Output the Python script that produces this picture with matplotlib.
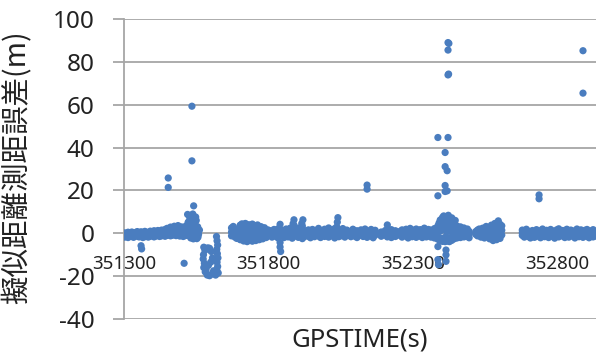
import matplotlib
matplotlib.use("Agg")
import matplotlib.pyplot as plt
import numpy as np

# ---------------- data ----------------
x_ticks = [351300, 351800, 352300, 352800]
y_ticks = [-40, -20, 0, 20, 40, 60, 80, 100]

# segment A: 351300-351515 near-zero band
a_time = [351302, 351308, 351314, 351320, 351327, 351333, 351340, 351346, 351352, 351359,
          351365, 351372, 351378, 351384, 351391, 351397, 351404, 351410, 351417, 351423,
          351430, 351436, 351442, 351449, 351455, 351461, 351468, 351474, 351480, 351487,
          351493, 351499, 351505, 351511]
a_err_hi = [0.2, -0.3, 0.5, 0.1, 0.6, -0.2, 0.4, 0.8, 0.3, 0.7, 0.2, 0.9, 0.5, 0.3, 1.0, 0.6,
            1.2, 0.8, 1.3, 0.9, 1.5, 1.1, 1.8, 2.3, 1.6, 2.9, 2.1, 3.3, 2.6, 3.6, 2.4, 3.0, 2.2, 2.8]
a_err_mid = [-0.8, -1.0, -0.6, -0.9, -0.4, -1.1, -0.7, -0.3, -0.9, -0.5, -0.8, -0.2, -0.6, -1.0,
             -0.3, -0.7, 0.1, -0.4, 0.3, -0.2, 0.4, 0.0, 0.6, 0.2, 0.9, 0.5, 1.1, 0.7, 1.3, 0.9,
             0.4, 1.2, 0.6, 1.0]
a_err_lo = [-1.8, -1.2, -2.0, -1.5, -1.1, -1.9, -1.4, -1.0, -1.7, -1.3, -2.0, -1.6, -1.2, -1.8,
            -1.4, -1.1, -1.7, -1.3, -0.9, -1.5, -1.2, -0.8, -1.4, -1.0, -0.6, -1.2, -0.9, -0.5,
            -1.1, -0.7, -1.3, -0.9, -1.5, -1.1]

# cluster at end of segment A
c1_time = [351515, 351518, 351522, 351525, 351528, 351531, 351534, 351537, 351540, 351543,
           351546, 351549, 351552, 351555, 351558, 351561, 351520, 351526, 351532, 351538,
           351544, 351550, 351556, 351530, 351540, 351548, 351535, 351545, 351527, 351551]
c1_err = [3.5, -1.0, 5.2, 0.5, 7.0, -2.2, 8.4, 2.0, 6.1, -1.5, 4.2, 0.8, -2.5, 3.0, -0.5, 1.5,
          8.8, 8.2, 4.5, 9.0, 2.6, 6.0, -1.8, -0.8, -2.6, 7.6, 1.0, 5.5, 3.2, -2.0]

# segment B: negative cluster
b_time = [351620, 351622, 351624, 351621, 351623, 351625, 351622, 351624, 351621, 351626,
          351576, 351580, 351575, 351574, 351578, 351576, 351581, 351588, 351596, 351604,
          351610, 351602, 351596, 351590, 351606, 351600, 351592, 351584, 351612, 351617]
b_err = [-1.5, -3.5, -5.5, -7.5, -9.5, -11.5, -13.5, -15.5, -17.0, -18.5,
         -6.5, -8.0, -10.0, -12.0, -14.0, -16.0, -18.0, -19.5, -19.8, -19.0,
         -17.5, -8.5, -7.0, -6.8, -11.5, -13.5, -15.0, -17.0, -18.8, -19.5]

# segment C: blob around 351800
cb_time = [351672, 351678, 351684, 351690, 351696, 351702, 351708, 351714, 351720, 351726, 351732,
           351738, 351744, 351750, 351756, 351762, 351768, 351774, 351780, 351786, 351792, 351798]
cb_err_hi = [2.5, 3.2, 1.8, 0.5, 2.2, 3.8, 4.4, 3.0, 4.6, 3.5, 4.0, 2.8, 4.3, 3.6, 2.4, 3.9,
             2.0, 3.1, 1.5, 2.6, 0.8, 1.6]
cb_err_mid = [0.6, -0.3, 0.9, -0.6, 0.4, 0.8, -0.4, 1.2, 0.2, -0.7, 1.0, -0.2, 0.5, 1.4, -0.5,
              0.7, -0.1, 0.9, 0.3, -0.4, 1.1, 0.0]
cb_err_lo = [-1.2, -0.5, -1.8, -2.4, -0.9, -3.0, -2.2, -3.6, -2.8, -3.9, -3.2, -2.5, -3.7, -2.9,
             -3.4, -2.0, -3.0, -1.6, -2.6, -1.4, -2.0, -0.8]

# segment C: band 351805-352045
cn_time = [351805, 351812, 351819, 351826, 351833, 351840, 351847, 351854, 351861, 351868,
           351875, 351882, 351889, 351896, 351903, 351910, 351917, 351924, 351931, 351938,
           351945, 351952, 351959, 351966, 351973, 351980, 351987, 351994, 352001, 352008,
           352015, 352022, 352029, 352036, 352043]
cn_err_hi = [1.2, 0.5, 1.8, 0.9, 2.1, 4.2, 1.5, 0.6, 2.0, 1.1, 2.4, 1.7, 3.6, 2.2, 1.0, 2.7,
             3.4, 1.3, 0.4, 1.6, 0.9, 1.8, 0.7, 1.4, 2.3, 1.0, 0.3, 1.9, 1.2, 2.5, 0.8, 1.6,
             2.2, 3.0, 1.1]
cn_err_mid = [0.1, -0.6, 0.5, -0.3, 0.2, -0.8, 0.4, -0.5, 0.7, -0.2, 0.3, -0.4, 0.9, 0.0, -0.6,
              0.6, -0.1, 0.4, -0.7, 0.2, -0.3, 0.5, -0.5, 0.3, -0.2, 0.6, -0.4, 0.1, -0.6, 0.7,
              -0.1, 0.2, -0.5, 0.8, 0.0]
cn_err_lo = [-1.0, -1.8, -0.6, -1.5, -2.2, -4.3, -1.2, -2.0, -0.9, -1.7, -1.1, -2.3, -1.4, -0.8,
             -1.9, -1.2, -2.5, -1.6, -0.7, -1.4, -2.1, -1.0, -1.6, -0.5, -1.3, -2.0, -0.9, -1.5,
             -1.1, -1.8, -0.6, -1.3, -2.2, -1.0, -1.6]

# segment D: band 352050-352355
d_time = [352050, 352057, 352064, 352071, 352085, 352092, 352099, 352106, 352120, 352127,
          352134, 352141, 352148, 352155, 352162, 352169, 352190, 352204, 352211, 352218,
          352225, 352232, 352239, 352255, 352262, 352269, 352276, 352283, 352290, 352297,
          352304, 352311, 352318, 352325, 352332, 352339, 352346, 352353]
d_err_hi = [1.0, 2.2, 0.6, 1.5, 0.8, 1.9, 0.4, 1.2, 1.6, 0.7, 2.0, 1.1, 0.5, 1.8, 0.9, 1.4,
            0.6, 1.3, 3.9, 0.8, 1.7, 0.4, 1.2, 0.9, 1.6, 0.5, 1.9, 1.0, 2.3, 0.7, 1.5, 2.0,
            0.9, 1.7, 1.2, 2.4, 1.0, 1.8]
d_err_mid = [-0.2, 0.5, -0.6, 0.2, -0.4, 0.6, -0.5, 0.1, 0.4, -0.3, 0.7, -0.1, -0.5, 0.3, -0.2,
             0.5, -0.4, 0.2, 0.8, -0.3, 0.4, -0.6, 0.1, -0.2, 0.6, -0.4, 0.3, -0.1, 0.7, -0.5,
             0.2, 0.6, -0.3, 0.4, -0.1, 0.8, -0.2, 0.5]
d_err_lo = [-1.2, -0.5, -1.8, -1.0, -1.6, -0.7, -1.4, -2.0, -0.8, -1.5, -1.1, -1.9, -0.6, -1.3,
            -2.1, -0.9, -1.4, -0.8, -1.7, -1.2, -2.0, -0.6, -1.5, -1.0, -1.8, -0.7, -1.3, -2.2,
            -0.9, -1.6, -1.1, -1.9, -0.5, -1.4, -2.0, -1.0, -1.7, -1.2]

# segment E: dense cluster 352360-352495
e_time = [352362, 352368, 352374, 352380, 352386, 352390, 352394, 352398, 352402, 352406,
          352410, 352414, 352418, 352422, 352426, 352430, 352434, 352438, 352442, 352446,
          352452, 352458, 352464, 352470, 352476, 352482, 352488, 352494]
e_err_hi = [1.5, 0.8, 2.2, 1.6, 3.5, 4.8, 6.2, 5.0, 7.4, 8.1, 6.5, 7.8, 5.6, 8.4, 6.9, 4.6,
            7.2, 5.8, 3.9, 6.0, 3.4, 2.2, 3.0, 1.6, 2.5, 1.2, 2.0, 0.9]
e_err_mid = [-0.3, 0.5, -0.6, 0.2, 1.5, 2.6, 1.0, 3.2, 2.0, 4.1, 1.4, 3.5, 0.8, 2.9, 1.9, 3.6,
             0.6, 2.4, 1.2, 0.4, 1.0, -0.2, 0.7, 0.1, -0.4, 0.3, 0.6, -0.5]
e_err_lo = [-1.8, -1.2, -2.2, -1.5, -2.8, -1.9, -3.4, -2.5, -3.8, -2.2, -3.1, -1.6, -3.6, -2.7,
            -3.9, -2.0, -3.3, -1.4, -2.6, -1.8, -2.2, -1.4, -2.0, -1.2, -1.7, -1.0, -1.5, -2.1]

# segment F: blob 352515-352610
f_time = [352517, 352523, 352529, 352535, 352541, 352547, 352553, 352559, 352565, 352571,
          352577, 352583, 352589, 352595, 352601, 352607]
f_err_hi = [0.8, 1.5, 2.0, 1.2, 2.4, 1.0, 3.2, 2.6, 1.4, 3.8, 2.2, 4.6, 3.0, 5.8, 4.2, 3.5]
f_err_mid = [0.1, -0.3, 0.6, 0.0, 0.8, -0.5, 1.2, 0.4, -0.8, 1.5, -0.6, 2.0, 0.5, 2.6, 1.0, 1.4]
f_err_lo = [-0.5, -1.2, -0.8, -1.8, -1.0, -2.2, -0.6, -1.5, -2.6, -1.2, -3.4, -2.0, -3.0, -1.6,
            -2.4, -0.8]

# segment G: band 352678-352930
g_time = [352678, 352685, 352692, 352699, 352706, 352713, 352720, 352727, 352734, 352741,
          352748, 352755, 352762, 352769, 352776, 352783, 352790, 352797, 352804, 352811,
          352818, 352825, 352832, 352839, 352846, 352853, 352860, 352867, 352874, 352881,
          352888, 352895, 352902, 352909, 352916, 352923, 352930]
g_err_hi = [1.5, 0.6, 1.9, 1.0, 0.4, 1.3, 0.8, 1.7, 0.5, 1.2, 2.0, 0.9, 1.4, 0.3, 1.8, 1.1,
            0.6, 1.6, 2.1, 0.8, 1.3, 0.5, 1.9, 1.0, 1.5, 0.7, 1.2, 2.0, 0.9, 1.6, 0.4, 1.4,
            1.8, 0.6, 1.1, 1.7, 0.8]
g_err_mid = [0.3, -0.5, 0.6, -0.2, -0.7, 0.2, -0.4, 0.5, -0.6, 0.1, 0.7, -0.3, 0.4, -0.8, 0.6,
             0.0, -0.5, 0.4, 0.8, -0.2, 0.3, -0.6, 0.5, -0.1, 0.2, -0.4, 0.0, 0.7, -0.3, 0.4,
             -0.6, 0.2, 0.5, -0.5, 0.1, 0.6, -0.2]
g_err_lo = [-1.0, -1.8, -0.7, -1.5, -2.2, -1.1, -1.9, -0.6, -1.4, -2.1, -0.9, -1.6, -1.2, -2.0,
            -0.8, -1.5, -2.3, -1.0, -1.7, -0.6, -1.3, -2.0, -1.1, -1.8, -0.7, -1.4, -2.2, -0.9,
            -1.6, -1.2, -1.9, -0.8, -1.5, -2.1, -1.0, -1.7, -1.3]

# isolated outliers
out_time = [351359, 351361, 351453, 351453, 351535, 351535, 351541, 351508,
            351840, 351842, 351888, 351919, 352040, 351885, 351915, 352038,
            352141, 352141,
            352421, 352424, 352421, 352423, 352421, 352386, 352421, 352411, 352411, 352418,
            352411, 352411, 352386, 352418,
            352386, 352386, 352388, 352411, 352414, 352414, 352414,
            352736, 352736, 352888, 352888]
out_err = [-5.8, -7.3, 25.8, 21.4, 59.3, 33.8, 12.8, -14.0,
           -6.4, -8.5, 6.3, 6.3, 7.3, 4.5, 4.6, 5.2,
           22.5, 20.6,
           89.0, 88.6, 85.5, 74.3, 73.9, 44.7, 44.7, 37.7, 31.1, 29.2,
           22.3, 19.5, 17.5, 19.8,
           -6.2, -12.3, -14.6, -3.9, -7.8, -10.1, -13.1,
           17.9, 16.1, 85.2, 65.4]

gps_time = (a_time * 3 + c1_time + b_time + cb_time * 3 + cn_time * 3 + d_time * 3
            + e_time * 3 + f_time * 3 + g_time * 3 + out_time)
range_error = (a_err_hi + a_err_mid + a_err_lo + c1_err + b_err
               + cb_err_hi + cb_err_mid + cb_err_lo
               + cn_err_hi + cn_err_mid + cn_err_lo
               + d_err_hi + d_err_mid + d_err_lo
               + e_err_hi + e_err_mid + e_err_lo
               + f_err_hi + f_err_mid + f_err_lo
               + g_err_hi + g_err_mid + g_err_lo + out_err)

# ---------------- plot ----------------
W, H = 596, 356
fig = plt.figure(figsize=(W / 100, H / 100), dpi=100)
ax = fig.add_axes([124 / W, 1 - 319 / H, 1 - 124 / W, 300 / H])

grid_col = "#A6A6A6"
ax.set_xlim(351300, 352933)
ax.set_ylim(-40, 100)
ax.set_yticks(y_ticks)
ax.yaxis.grid(True, color=grid_col, linewidth=1.3)
ax.set_axisbelow(True)

ax.scatter(gps_time, range_error, s=27, color="#4A7DBF", edgecolors="none", zorder=3)

for s in ["top", "right"]:
    ax.spines[s].set_visible(False)
ax.spines["left"].set_color(grid_col)
ax.spines["left"].set_linewidth(1.3)
ax.spines["bottom"].set_position(("data", 0))
ax.spines["bottom"].set_visible(False)

ax.set_xticks(x_ticks)
ax.set_xticklabels([str(t) for t in x_ticks], fontsize=13.5, family="Noto Sans", color="#222222")
ax.tick_params(axis="x", length=0, pad=15.5)
ax.set_yticklabels([str(t) for t in y_ticks], fontsize=17.5, family="Noto Sans", color="#222222")
ax.tick_params(axis="y", length=8, width=1.3, color=grid_col, pad=13)

fig.text(18 / W, 1 - 167 / H, "擬似距離測距誤差(m)", rotation=90, ha="center", va="center",
         fontsize=20.5, family=["Noto Sans CJK JP", "DejaVu Sans"], color="#222222")
fig.text(360 / W, 1 - 340 / H, "GPSTIME(s)", ha="center", va="center",
         fontsize=18.5, family="Noto Sans", color="#222222")

fig.savefig("out.png", dpi=100)
